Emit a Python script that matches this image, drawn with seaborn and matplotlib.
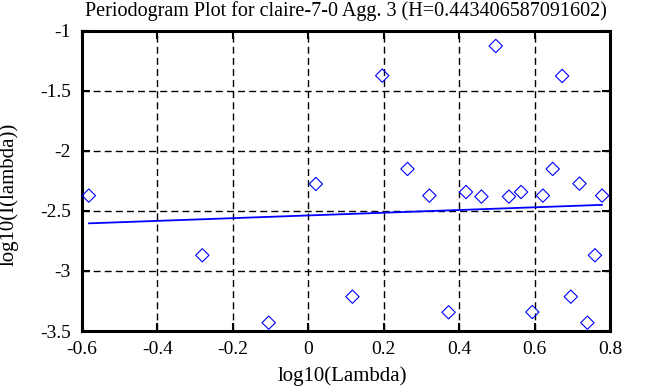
import matplotlib
matplotlib.use("Agg")
import matplotlib.pyplot as plt
import seaborn as sns
import pandas as pd

# data
log_lambda = [-0.582, -0.281, -0.105, 0.020, 0.117, 0.196, 0.263, 0.321, 0.372, 0.418,
              0.459, 0.497, 0.532, 0.564, 0.594, 0.622, 0.648, 0.673, 0.696, 0.719,
              0.740, 0.760, 0.779]
log_I = [-2.372, -2.869, -3.431, -2.275, -3.214, -1.372, -2.150, -2.372, -3.344, -2.342,
         -2.380, -1.125, -2.380, -2.342, -3.342, -2.372, -2.150, -1.375, -3.214, -2.272,
         -3.431, -2.869, -2.372]
fit_x = [-0.582, 0.779]
fit_y = [-2.603, -2.449]
x_ticks = [-0.6, -0.4, -0.2, 0, 0.2, 0.4, 0.6, 0.8]
x_tick_labels = ["-0.6", "-0.4", "-0.2", "0", "0.2", "0.4", "0.6", "0.8"]
y_ticks = [-3.5, -3, -2.5, -2, -1.5, -1]
y_tick_labels = ["-3.5", "-3", "-2.5", "-2", "-1.5", "-1"]
title = "Periodogram Plot for claire-7-0 Agg. 3 (H=0.443406587091602)"

sns.set_theme(style="white")
plt.rcParams['font.family'] = ['Liberation Serif', 'DejaVu Serif']

fig = plt.figure(figsize=(6.53, 3.87), dpi=100)
ax = fig.add_axes([0.1256, 0.1447, 0.8086, 0.7753])

df = pd.DataFrame({"x": log_lambda, "y": log_I})
fit = pd.DataFrame({"x": fit_x, "y": fit_y})

sns.lineplot(data=fit, x="x", y="y", ax=ax, color="#0000ff", linewidth=1.3, zorder=3)
sns.scatterplot(data=df, x="x", y="y", ax=ax, marker="D", s=46,
                facecolors="none", edgecolor="#0000ff", linewidth=0.8, zorder=4)

ax.set_xlim(-0.6, 0.8)
ax.set_ylim(-3.5, -1)
ax.set_xticks(x_ticks)
ax.set_xticklabels(x_tick_labels)
ax.set_yticks(y_ticks)
ax.set_yticklabels(y_tick_labels, va="center_baseline")

ax.grid(True, color="black", linestyle=(0, (5, 3)), linewidth=1.0)
for s in ax.spines.values():
    s.set_color("black")
    s.set_linewidth(2.2)

ax.tick_params(axis="both", direction="in", length=6, width=1.5, color="black",
               top=True, right=True, bottom=True, left=True,
               labelsize=14, labelcolor="black")
ax.tick_params(axis="x", pad=7)
ax.tick_params(axis="y", pad=8)

ax.set_xlabel("log10(Lambda)", fontsize=15, color="black")
ax.xaxis.label.set_va("center")
ax.xaxis.set_label_coords(0.493, -0.15)
ax.set_ylabel("log10(I(lambda))", fontsize=15, color="black")
ax.yaxis.label.set_va("center")
ax.yaxis.set_label_coords(-0.138, 0.457)

fig.text(0.5299, 0.972, title, fontsize=14.5, color="black", ha="center", va="center")

fig.savefig("out.png", dpi=100)
